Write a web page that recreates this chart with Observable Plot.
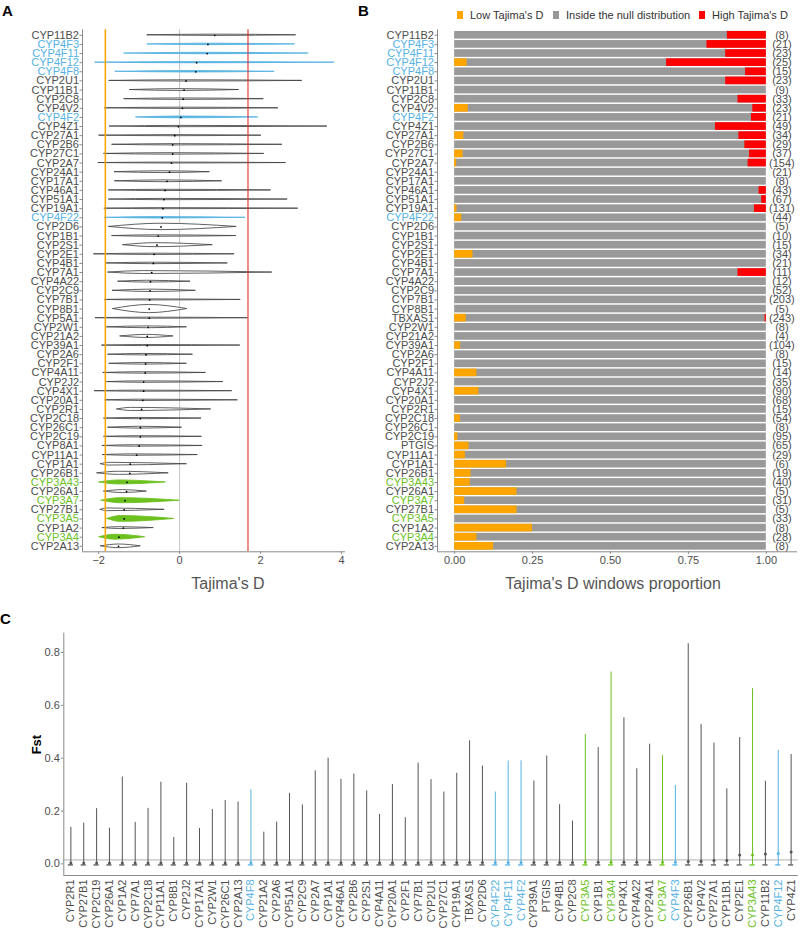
<!DOCTYPE html>
<html><head><meta charset="utf-8">
<script src="https://cdn.jsdelivr.net/npm/d3@7"></script>
<script src="https://cdn.jsdelivr.net/npm/@observablehq/plot@0.6"></script>
<style>
body{margin:0;background:#fff;font-family:"Liberation Sans",Arial,Helvetica,sans-serif;}
#root{position:relative;width:800px;height:938px;overflow:hidden;background:#fff;}
#root svg{position:absolute;}
.abs{position:absolute;white-space:nowrap;}
.letter{font-weight:bold;font-size:15px;color:#000;line-height:15px;}
.title{font-size:16px;color:#555;line-height:18px;transform:translateX(-50%);}
.leg{font-size:11px;color:#333;line-height:12px;}
.sw{width:6px;height:8px;}
</style></head><body><div id="root"></div>
<script>
// ---------------- Panel A : Tajima's D per gene ----------------
const genesA = ["CYP11B2","CYP4F3","CYP4F11","CYP4F12","CYP4F8","CYP2U1","CYP11B1","CYP2C8","CYP4V2","CYP4F2","CYP4Z1","CYP27A1","CYP2B6","CYP27C1","CYP2A7","CYP24A1","CYP17A1","CYP46A1","CYP51A1","CYP19A1","CYP4F22","CYP2D6","CYP1B1","CYP2S1","CYP2E1","CYP4B1","CYP7A1","CYP4A22","CYP2C9","CYP7B1","CYP8B1","CYP5A1","CYP2W1","CYP21A2","CYP39A1","CYP2A6","CYP2F1","CYP4A11","CYP2J2","CYP4X1","CYP20A1","CYP2R1","CYP2C18","CYP26C1","CYP2C19","CYP8A1","CYP11A1","CYP1A1","CYP26B1","CYP3A43","CYP26A1","CYP3A7","CYP27B1","CYP3A5","CYP1A2","CYP3A4","CYP2A13"];
const tdMin = [-0.79,-0.79,-1.36,-2.08,-1.58,-1.73,-1.22,-1.36,-1.84,-1.07,-1.72,-1.98,-1.66,-1.86,-2.0,-1.60,-1.59,-1.74,-1.74,-1.85,-1.84,-1.74,-1.66,-1.39,-2.11,-1.82,-1.76,-1.51,-1.65,-1.84,-1.64,-2.07,-1.79,-1.46,-1.91,-1.76,-1.73,-1.88,-1.79,-2.09,-1.83,-1.54,-1.86,-1.76,-1.86,-1.90,-1.89,-1.94,-2.03,-1.98,-1.86,-1.93,-1.95,-1.79,-1.90,-1.98,-1.94];
const tdMed = [0.87,0.70,0.68,0.42,0.40,0.16,0.11,0.09,0.07,0.03,-0.03,-0.12,-0.17,-0.17,-0.20,-0.25,-0.31,-0.36,-0.39,-0.41,-0.43,-0.46,-0.53,-0.56,-0.63,-0.65,-0.69,-0.72,-0.73,-0.74,-0.75,-0.75,-0.78,-0.80,-0.80,-0.83,-0.84,-0.85,-0.89,-0.89,-0.91,-0.94,-0.97,-0.97,-0.97,-1.00,-1.06,-1.22,-1.23,-1.30,-1.31,-1.35,-1.37,-1.37,-1.39,-1.50,-1.51];
const tdMax = [2.88,2.85,3.19,3.83,2.35,3.03,1.47,2.08,2.44,1.94,3.65,2.02,2.54,2.09,2.63,0.75,1.05,2.26,2.67,2.93,1.63,1.41,1.40,0.82,1.36,1.19,2.29,0.27,0.40,1.51,0.19,1.69,0.18,-0.15,1.50,0.33,0.18,0.65,1.08,1.30,1.44,0.78,0.54,0.06,0.55,0.57,0.45,0.18,-0.27,-0.34,-0.81,0.0,-0.37,-0.13,-0.64,-0.85,-0.96];
const tdPeak = [0.9,0.7,0.6,0.4,0.3,0.1,0.0,0.0,0.0,0.0,0.0,-0.2,-0.2,-0.3,-0.2,-0.4,-0.4,-0.4,-0.4,-0.5,-0.6,-0.45,-0.6,-0.6,-0.7,-0.7,-0.9,-0.8,-0.7,-0.8,-0.75,-0.8,-0.8,-0.8,-0.9,-0.9,-0.9,-0.9,-0.9,-1.0,-1.0,-1.2,-1.0,-1.0,-1.0,-1.1,-1.2,-1.75,-1.5,-1.5,-1.4,-1.45,-1.8,-1.45,-1.5,-1.6,-1.5];
const tdWidth = [0.07,0.08,0.08,0.07,0.08,0.07,0.1,0.08,0.07,0.1,0.07,0.06,0.07,0.08,0.05,0.1,0.1,0.07,0.07,0.06,0.08,0.35,0.08,0.22,0.07,0.08,0.16,0.1,0.13,0.06,0.45,0.06,0.1,0.17,0.06,0.08,0.09,0.08,0.08,0.06,0.07,0.17,0.07,0.1,0.07,0.08,0.08,0.15,0.17,0.22,0.16,0.28,0.15,0.32,0.1,0.27,0.2];
const tdLow = -1.835, tdHigh = 1.69;

// ---------------- Panel B : windows proportion ----------------
const genesB = ["CYP11B2","CYP4F3","CYP4F11","CYP4F12","CYP4F8","CYP2U1","CYP11B1","CYP2C8","CYP4V2","CYP4F2","CYP4Z1","CYP27A1","CYP2B6","CYP27C1","CYP2A7","CYP24A1","CYP17A1","CYP46A1","CYP51A1","CYP19A1","CYP4F22","CYP2D6","CYP1B1","CYP2S1","CYP2E1","CYP4B1","CYP7A1","CYP4A22","CYP2C9","CYP7B1","CYP8B1","TBXAS1","CYP2W1","CYP21A2","CYP39A1","CYP2A6","CYP2F1","CYP4A11","CYP2J2","CYP4X1","CYP20A1","CYP2R1","CYP2C18","CYP26C1","CYP2C19","PTGIS","CYP11A1","CYP1A1","CYP26B1","CYP3A43","CYP26A1","CYP3A7","CYP27B1","CYP3A5","CYP1A2","CYP3A4","CYP2A13"];
const winTotal = [8,21,23,25,15,23,9,33,23,21,49,34,29,37,154,21,8,43,67,131,44,5,10,15,34,21,11,12,52,203,5,243,8,4,104,8,15,14,35,90,68,15,54,8,95,65,29,6,19,40,5,31,5,33,8,28,8];
const winLow   = [0,0,0,1,0,0,0,0,1,0,0,1,0,1,1,0,0,0,0,1,1,0,0,0,2,0,0,0,0,0,0,9,0,0,2,0,0,1,0,7,0,0,1,0,1,3,1,1,1,2,1,1,1,0,2,2,1];
const winHigh  = [1,4,3,8,1,3,0,3,1,1,8,3,2,2,9,0,0,1,1,5,0,0,0,0,0,0,1,0,0,0,0,1,0,0,0,0,0,0,0,0,0,0,0,0,0,0,0,0,0,0,0,0,0,0,0,0,0];
const legendLabels = ["Low Tajima's D","Inside the null distribution","High Tajima's D"];

// ---------------- Panel C : Fst ----------------
const genesC = ["CYP2R1","CYP27B1","CYP2C19","CYP26A1","CYP1A2","CYP7A1","CYP2C18","CYP11A1","CYP8B1","CYP2J2","CYP17A1","CYP2W1","CYP26C1","CYP2A13","CYP4F8","CYP21A2","CYP2A6","CYP51A1","CYP2C9","CYP2A7","CYP1A1","CYP46A1","CYP2B6","CYP2S1","CYP4A11","CYP20A1","CYP2F1","CYP7B1","CYP2U1","CYP27C1","CYP19A1","TBXAS1","CYP2D6","CYP4F22","CYP4F11","CYP4F2","CYP39A1","PTGIS","CYP4B1","CYP2C8","CYP3A5","CYP1B1","CYP3A4","CYP4X1","CYP4A22","CYP24A1","CYP3A7","CYP4F3","CYP26B1","CYP4V2","CYP27A1","CYP11B1","CYP2E1","CYP3A43","CYP11B2","CYP4F12","CYP4Z1"];
const fstMax = [0.138,0.154,0.209,0.135,0.329,0.157,0.210,0.309,0.100,0.305,0.134,0.206,0.240,0.234,0.280,0.120,0.158,0.267,0.223,0.352,0.400,0.320,0.340,0.276,0.187,0.300,0.175,0.381,0.319,0.272,0.343,0.466,0.370,0.272,0.389,0.390,0.313,0.408,0.224,0.162,0.490,0.440,0.726,0.553,0.360,0.453,0.409,0.297,0.833,0.528,0.457,0.284,0.478,0.663,0.313,0.429,0.414];
const fstMed = [0.003,0.003,0.003,0.003,0.003,0.003,0.003,0.003,0.003,0.003,0.003,0.003,0.003,0.003,0.004,0.004,0.004,0.004,0.004,0.004,0.004,0.004,0.004,0.004,0.004,0.004,0.004,0.004,0.005,0.005,0.005,0.005,0.005,0.005,0.005,0.005,0.005,0.005,0.005,0.005,0.006,0.006,0.006,0.006,0.006,0.006,0.006,0.006,0.009,0.010,0.013,0.013,0.034,0.034,0.037,0.039,0.045];
const fstMin = [-0.004,-0.004,-0.004,-0.004,-0.004,-0.004,-0.004,-0.004,-0.004,-0.004,-0.004,-0.004,-0.004,-0.004,-0.004,-0.004,-0.004,-0.004,-0.004,-0.004,-0.004,-0.004,-0.004,-0.004,-0.004,-0.004,-0.004,-0.004,-0.004,-0.004,-0.004,-0.004,-0.004,-0.004,-0.004,-0.004,-0.004,-0.004,-0.004,-0.004,-0.004,-0.004,-0.004,-0.004,-0.004,-0.004,-0.004,-0.004,-0.004,-0.004,-0.004,-0.004,-0.004,-0.004,-0.004,-0.004,-0.004];
const fstRef = 0.015;

// ---------------- styling helpers ----------------
const BLUE = "#55B2E2", GREEN = "#6CC11F", GRAYT = "#4d4d4d";
const famColor = g => g.startsWith("CYP4F") ? BLUE : g.startsWith("CYP3A") ? GREEN : GRAYT;
const FONT = '"Liberation Sans", Arial, Helvetica, sans-serif';
const minus = d => d < 0 ? "\u2212" + (-d) : String(d);
const root = document.getElementById("root");
function place(svg, left, top) { svg.style.left = left + "px"; svg.style.top = top + "px"; root.appendChild(svg); }

// ---- A ----
const rowsA = genesA.map((g, i) => ({g, i, min: tdMin[i], med: tdMed[i], max: tdMax[i], peak: tdPeak[i], w: tdWidth[i]}));
const shapeA = rowsA.flatMap(r => [
  {g: r.g, i: r.i, x: r.min, h: 0},
  {g: r.g, i: r.i, x: r.peak, h: r.w},
  {g: r.g, i: r.i, x: r.max, h: 0}
]);
const xA = [-2.4, 4.1], yA = [-0.6, genesA.length - 1 + 0.6];
const plotA = Plot.plot({
  width: 348, height: 600, marginLeft: 82, marginRight: 3, marginTop: 29.3, marginBottom: 48.7,
  style: {fontFamily: FONT, fontSize: "11px", background: "transparent", color: GRAYT},
  x: {domain: xA},
  y: {domain: yA, reverse: true},
  marks: [
    Plot.ruleX([0], {stroke: "#b5b5b5", strokeWidth: 0.8}),
    Plot.areaY(shapeA, {x: "x", y1: d => d.i - d.h, y2: d => d.i + d.h, z: "g", curve: "monotone-x",
      fill: d => famColor(d.g) === GRAYT ? "white" : famColor(d.g),
      stroke: d => famColor(d.g) === GRAYT ? "#444" : famColor(d.g), strokeWidth: 0.85}),
    Plot.ruleX([tdLow], {stroke: "#FFA500", strokeWidth: 1.6}),
    Plot.ruleX([tdHigh], {stroke: "#E0302A", strokeWidth: 1.1}),
    Plot.dot(rowsA, {x: "med", y: "i", r: 0.9, fill: "black"}),
    Plot.ruleX([xA[0]], {stroke: "#8a8a8a", strokeWidth: 1}),
    Plot.ruleY([yA[1]], {stroke: "#8a8a8a", strokeWidth: 1}),
    Plot.axisY(d3.range(genesA.length), {tickFormat: () => "", tickSize: 2.5, stroke: "#8a8a8a", label: null}),
    Plot.axisX([-2, 0, 2, 4], {tickSize: 2.5, tickPadding: 1.5, tickFormat: minus, stroke: "#8a8a8a", fontSize: 11, label: null}),
    Plot.text(rowsA, {x: () => xA[0], y: "i", text: "g", textAnchor: "end", dx: -3.5, fill: d => famColor(d.g), fontSize: 11})
  ]
});
place(plotA, 0, 0);

// ---- B ----
const rowsB = genesB.map((g, i) => ({g, i, n: winTotal[i], lo: winLow[i] / winTotal[i], hi: winHigh[i] / winTotal[i]}));
const xB = [-0.055, 1.10], yB = [-0.6, genesB.length - 1 + 0.6];
const hb = 0.42;
const plotB = Plot.plot({
  width: 452, height: 600, marginLeft: 89, marginRight: 3, marginTop: 29.3, marginBottom: 48.7,
  style: {fontFamily: FONT, fontSize: "11px", background: "transparent", color: GRAYT},
  x: {domain: xB},
  y: {domain: yB, reverse: true},
  marks: [
    Plot.rect(rowsB, {x1: () => 0, x2: () => 1, y1: d => d.i - hb, y2: d => d.i + hb, fill: "#999999"}),
    Plot.rect(rowsB.filter(d => d.lo > 0), {x1: () => 0, x2: "lo", y1: d => d.i - hb, y2: d => d.i + hb, fill: "#FFA500"}),
    Plot.rect(rowsB.filter(d => d.hi > 0), {x1: d => 1 - d.hi, x2: () => 1, y1: d => d.i - hb, y2: d => d.i + hb, fill: "#FF0000"}),
    Plot.text(rowsB, {x: () => 1.05, y: "i", text: d => `(${d.n})`, fill: GRAYT, fontSize: 11}),
    Plot.ruleX([xB[0]], {stroke: "#8a8a8a", strokeWidth: 1}),
    Plot.ruleY([yB[1]], {stroke: "#8a8a8a", strokeWidth: 1}),
    Plot.axisY(d3.range(genesB.length), {tickFormat: () => "", tickSize: 2.5, stroke: "#8a8a8a", label: null}),
    Plot.axisX([0, 0.25, 0.5, 0.75, 1], {tickSize: 2.5, tickPadding: 1.5, tickFormat: d3.format(".2f"), stroke: "#8a8a8a", fontSize: 11, label: null}),
    Plot.text(rowsB, {x: () => xB[0], y: "i", text: "g", textAnchor: "end", dx: -3.5, fill: d => famColor(d.g), fontSize: 11})
  ]
});
place(plotB, 348, 0);

// ---- C ----
const lineColor = g => famColor(g) === GRAYT ? "#555555" : famColor(g);
const rowsC = genesC.map((g, i) => ({g, i, min: fstMin[i], med: fstMed[i], max: fstMax[i]}));
const xC = [-0.55, genesC.length - 1 + 0.55], yC = [-0.044, 0.873];
const plotC = Plot.plot({
  width: 800, height: 338, marginLeft: 63.3, marginRight: 2.3, marginTop: 32.7, marginBottom: 63,
  style: {fontFamily: FONT, fontSize: "11px", background: "transparent", color: GRAYT},
  x: {domain: xC, axis: null},
  y: {domain: yC},
  marks: [
    Plot.ruleY([fstRef], {stroke: "#9a9a9a", strokeWidth: 0.8}),
    Plot.ruleX(rowsC, {x: "i", y1: "min", y2: "max", stroke: d => lineColor(d.g), strokeWidth: 1}),
    Plot.ruleY(rowsC, {y: "min", x1: d => d.i - 0.2, x2: d => d.i + 0.2, stroke: d => lineColor(d.g), strokeWidth: 1.3}),
    Plot.dot(rowsC, {x: "i", y: "med", r: 1.5, fill: d => lineColor(d.g)}),
    Plot.ruleX([xC[0]], {stroke: "#8a8a8a", strokeWidth: 1}),
    Plot.ruleY([yC[0]], {stroke: "#8a8a8a", strokeWidth: 1}),
    Plot.axisY([0, 0.2, 0.4, 0.6, 0.8], {tickFormat: d3.format(".1f"), tickSize: 2.5, tickPadding: 1.5, stroke: "#8a8a8a", fontSize: 11, label: null}),
    Plot.text(rowsC, {x: "i", y: () => yC[0], text: "g", rotate: -90, textAnchor: "end", dy: 4, fill: d => famColor(d.g), fontSize: 11}),
    Plot.text(["Fst"], {frameAnchor: "left", text: d => d, dx: -27, rotate: -90, fontWeight: "bold", fontSize: 13, fill: "black"})
  ]
});
place(plotC, 0, 600);

// ---- HTML annotations ----
function addDiv(cls, text, left, top, extra) {
  const d = document.createElement("div");
  d.className = "abs " + cls; d.textContent = text;
  d.style.left = left + "px"; d.style.top = top + "px";
  if (extra) Object.assign(d.style, extra);
  root.appendChild(d); return d;
}
addDiv("letter", "A", 2, 3);
addDiv("letter", "B", 358, 3);
addDiv("letter", "C", 0, 611);
addDiv("title", "Tajima's D", 228, 575);
addDiv("title", "Tajima's D windows proportion", 613, 575);
const legColors = ["#FFA500", "#999999", "#FF0000"];
const legX = [457, 553, 699];
legendLabels.forEach((t, k) => {
  addDiv("sw", "", legX[k], 11, {background: legColors[k]});
  addDiv("leg", t, legX[k] + 13, 9);
});
</script></body></html>
